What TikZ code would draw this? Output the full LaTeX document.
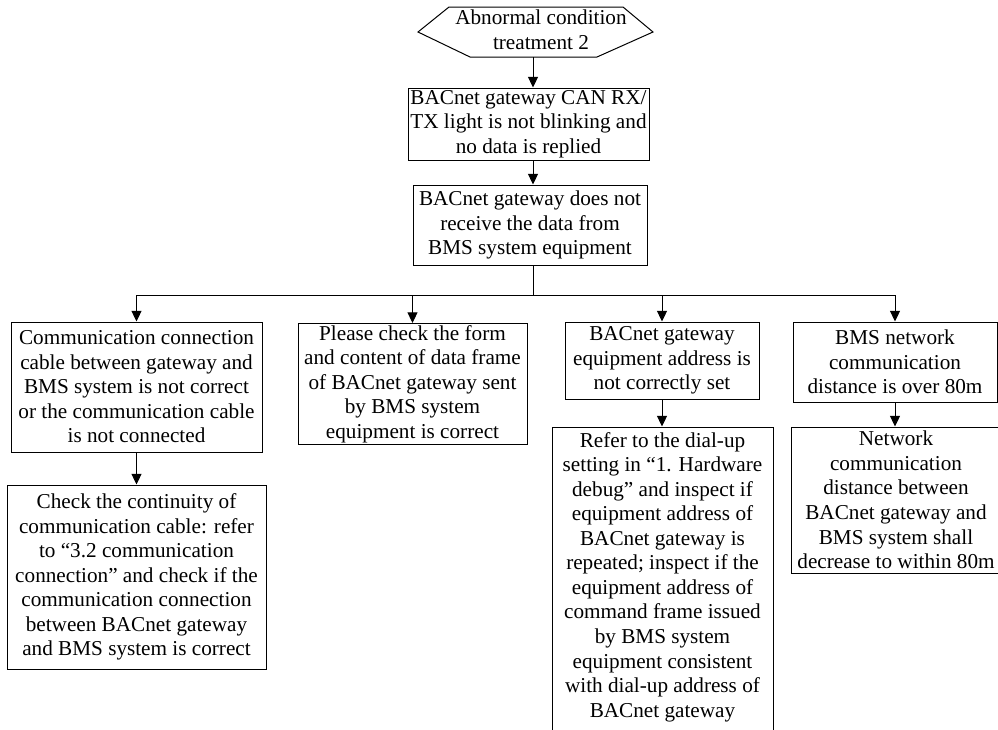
\documentclass[tikz,border=0pt]{standalone}
\usepackage{fontspec}
\setmainfont{Liberation Serif}
\usetikzlibrary{arrows.meta}
\begin{document}
\begin{tikzpicture}[x=0.75pt,y=-0.75pt,
  every node/.style={font=\fontsize{15.9pt}{18.4pt}\selectfont, align=center, inner sep=0pt},
  box/.style={draw, line width=0.75pt},
  link/.style={line width=0.75pt},
  arr/.style={link, -{Triangle[width=7.5pt,length=8pt]}}]
\clip (0,0) rectangle (998,729);

% start terminal (hexagon)
\coordinate (hL)  at (418,32);
\coordinate (hTL) at (449,7);
\coordinate (hTR) at (623,7);
\coordinate (hR)  at (653,32);
\coordinate (hBR) at (597,57);
\coordinate (hBL) at (470,57);
\coordinate (hb)  at (533,57);
\draw[link] (hL) -- (hTL) -- (hTR) -- (hR) -- (hBR) -- (hBL) -- cycle;
\node (hex) at (541,30) {Abnormal condition\\treatment 2};

% main chain
\node[box, minimum width=180.75pt, minimum height=54pt] (b1) at (528.5,124)
  {BACnet gateway CAN RX/\\TX light is not blinking and\\no data is replied};
\node[box, minimum width=175.5pt, minimum height=60pt] (b2) at (530,225)
  {BACnet gateway does not\\receive the data from\\BMS system equipment};

\coordinate (bus) at (533,295);

% branches
\node[box, minimum width=188.25pt, minimum height=97.5pt] (bA) at (136.5,387)
  {Communication connection\\cable between gateway and\\BMS system is not correct\\or the communication cable\\is not connected};
\node[box, minimum width=194.25pt, minimum height=138pt] (bA2) at (136.5,577)
  {Check the continuity of\\communication cable: refer\\to “3.2 communication\\connection” and check if the\\communication connection\\between BACnet gateway\\and BMS system is correct};

\node[box, minimum width=171.75pt, minimum height=90.75pt] (bB) at (412.5,384)
  {Please check the form\\and content of data frame\\of BACnet gateway sent\\by BMS system\\equipment is correct};

\node[box, minimum width=145.5pt, minimum height=57.75pt] (bC) at (662,360.5)
  {BACnet gateway\\equipment address is\\not correctly set};
\node[box, minimum width=165.75pt, minimum height=238.5pt] (bC2) at (662.5,586) {};
\node (tC2) at (662.5,577)
  {Refer to the dial-up\\setting in “1. Hardware\\debug” and inspect if\\equipment address of\\BACnet gateway is\\repeated; inspect if the\\equipment address of\\command frame issued\\by BMS system\\equipment consistent\\with dial-up address of\\BACnet gateway};

\node[box, minimum width=153pt, minimum height=60pt] (bD) at (895,362)
  {BMS network\\communication\\distance is over 80m};
\node[box, minimum width=157.5pt, minimum height=109.5pt] (bD2) at (896,500)
  {Network\\communication\\distance between\\BACnet gateway and\\BMS system shall\\decrease to within 80m};

% connectors
\draw[arr] (hb) -- (hb |- b1.north);
\draw[arr] (b1.south -| hb) -- (b2.north -| hb);
\draw[link] (b2.south -| hb) -- (bus);
\draw[link] (bus -| bA.north) -- (bus -| bD.north);
\draw[arr] (bus -| bA.north) -- (bA.north);
\draw[arr] (bus -| bB.north) -- (bB.north);
\draw[arr] (bus -| bC.north) -- (bC.north);
\draw[arr] (bus -| bD.north) -- (bD.north);
\draw[arr] (bA.south) -- (bA2.north);
\draw[arr] (bC.south) -- (bC.south |- bC2.north);
\draw[arr] (bD.south) -- (bD.south |- bD2.north);
\end{tikzpicture}
\end{document}
